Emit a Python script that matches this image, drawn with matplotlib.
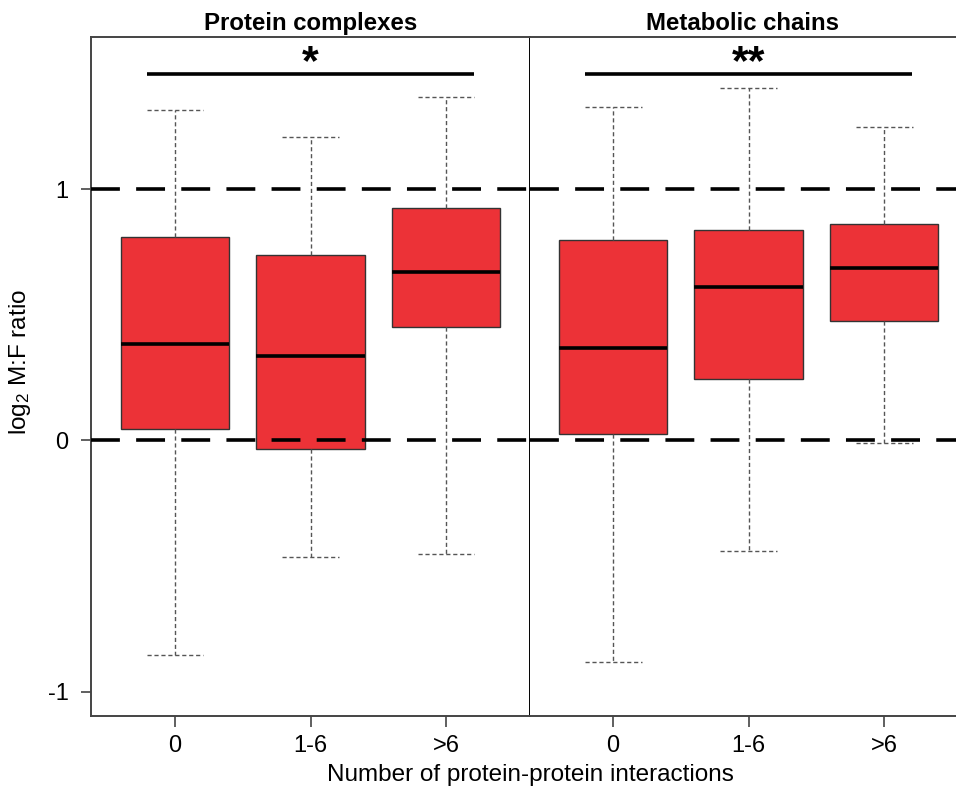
import matplotlib
matplotlib.use('Agg')
import matplotlib.pyplot as plt

# --------------------------- DATA ---------------------------

groups = ['0', '1-6', '>6']

# Protein complexes panel.
pc_whislo = [-0.853, -0.465, -0.454]
pc_q1 = [0.044, -0.036, 0.450]
pc_med = [0.382, 0.335, 0.669]
pc_q3 = [0.809, 0.737, 0.924]
pc_whishi = [1.315, 1.207, 1.367]

# Metabolic chains panel.
mc_whislo = [-0.883, -0.442, -0.012]
mc_q1 = [0.024, 0.243, 0.474]
mc_med = [0.367, 0.610, 0.685]
mc_q3 = [0.797, 0.837, 0.861]
mc_whishi = [1.327, 1.404, 1.247]

panel_titles = ['Protein complexes', 'Metabolic chains']
significance = ['*', '**']
sig_level = 1.458


# --------------------------- PLOT SETTINGS ---------------------------

plt.rcParams['font.family'] = ['Liberation Sans', 'DejaVu Sans']
plt.rcParams['mathtext.fontset'] = 'custom'
plt.rcParams['mathtext.rm'] = 'Liberation Sans'
plt.rcParams['mathtext.it'] = 'Liberation Sans'

box_red = '#ec3237'
edge_col = '#333333'
whisk_col = '#555555'


def make_stats(lo, q1, med, q3, hi):
    return [dict(whislo=lo[i], q1=q1[i], med=med[i], q3=q3[i], whishi=hi[i], fliers=[], label=groups[i])
            for i in range(len(groups))]


# --------------------------- BUILD THE FIGURE ---------------------------

fig = plt.figure(figsize=(9.56, 7.89), dpi=100)
ax_l = fig.add_axes([91/956, 1 - 716/789, 439/956, 679/789])
ax_r = fig.add_axes([530/956, 1 - 716/789, 426/956, 679/789])

panels = [
    (ax_l, make_stats(pc_whislo, pc_q1, pc_med, pc_q3, pc_whishi), (0.38, 3.62)),
    (ax_r, make_stats(mc_whislo, mc_q1, mc_med, mc_q3, mc_whishi), (0.387, 3.53)),
]

for i, (ax, stats, xlim) in enumerate(panels):
    ax.bxp(stats, positions=[1, 2, 3], widths=0.8, patch_artist=True, showfliers=False,
           boxprops=dict(facecolor=box_red, edgecolor=edge_col, linewidth=1.0),
           medianprops=dict(color='black', linewidth=2.6, solid_capstyle='butt'),
           whiskerprops=dict(color=whisk_col, linestyle=(0, (3, 2)), linewidth=1.0),
           capprops=dict(color=whisk_col, linestyle=(0, (3, 2)), linewidth=1.0),
           capwidths=0.42)

    # Reference lines at log2 ratio 0 and 1.
    for yref in [0, 1]:
        ax.axhline(yref, color='black', linewidth=2.6, linestyle=(0, (8, 4.5)), zorder=5)

    # Significance bar and stars.
    ax.plot([0.793, 3.207], [sig_level, sig_level], color='black', linewidth=2.6, solid_capstyle='butt')
    ax.text(2, 1.458, significance[i], ha='center', va='baseline', fontsize=31, fontweight='bold')

    ax.set_title(panel_titles[i], fontsize=17.3, fontweight='bold', pad=5)
    ax.set_xlim(*xlim)
    ax.set_ylim(-1.097, 1.605)
    ax.set_xticks([1, 2, 3])
    ax.set_xticklabels(groups, fontsize=17)
    ax.tick_params(axis='x', length=8, width=1.2, color='#444444', pad=6)

    for side in ['top', 'bottom', 'left', 'right']:
        ax.spines[side].set_color('#444444')
        ax.spines[side].set_linewidth(1.4)

# Left panel: y axis with ticks, right spine acts as the panel separator.
ax_l.set_yticks([-1, 0, 1])
ax_l.set_yticklabels(['-1', '0', '1'], fontsize=17)
ax_l.tick_params(axis='y', length=7.2, width=1.2, color='#444444', pad=9)
ax_l.spines['right'].set_color('black')
ax_l.set_ylabel(r'log$_2$ M:F ratio', fontsize=17.5)
ax_l.yaxis.set_label_coords(-58/439, 0.521)

# Right panel: no y axis.
ax_r.set_yticks([])
ax_r.spines['left'].set_visible(False)
ax_r.spines['right'].set_visible(False)

fig.text(530/956, 1 - 775/789, 'Number of protein-protein interactions', ha='center', va='center', fontsize=17.5)

fig.savefig('out.png', dpi=100)
